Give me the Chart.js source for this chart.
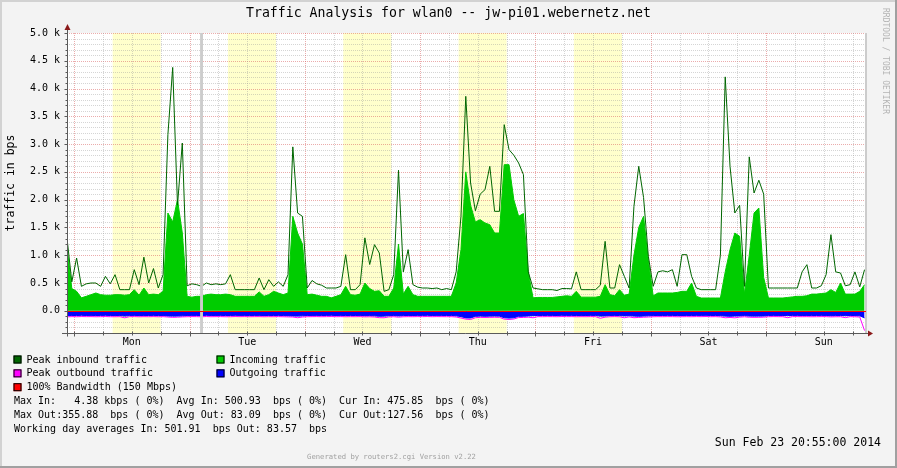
<!DOCTYPE html>
<html>
<head>
<meta charset="utf-8">
<title>Traffic Analysis for wlan0</title>
<script src="https://cdn.jsdelivr.net/npm/chart.js@4/dist/chart.umd.min.js"></script>
<style>
  html, body { margin: 0; padding: 0; background: #f3f3f3; }
  #graph { display: block; }
</style>
</head>
<body>
<canvas id="graph" width="897" height="468"></canvas>
<script>
// hours counted from Monday 00:00, one sample per hour
const startHour = -1.5;
const stepHours = 1;
const endHour = 164.8;
const dayLabels = ['Mon', 'Tue', 'Wed', 'Thu', 'Fri', 'Sat', 'Sun'];
const yTickValues = [0, 500, 1000, 1500, 2000, 2500, 3000, 3500, 4000, 4500, 5000];
const workDays = [0, 1, 2, 3, 4];
const workHours = [8, 18];
const unknownHours = [[26.2, 26.8]];

const incoming = [
  1150, 400, 350, 233, 260, 290, 320, 290, 280, 280,
  290, 290, 280, 290, 380, 280, 410, 290, 300, 290,
  350, 1760, 1600, 2000, 1400, 260, 245, 260, 260, 290,
  300, 290, 290, 300, 290, 260, 260, 260, 260, 260,
  340, 260, 290, 350, 320, 290, 320, 1700, 1400, 1200,
  290, 300, 280, 260, 260, 233, 260, 290, 440, 290,
  280, 300, 500, 400, 350, 360, 260, 260, 410, 1200,
  300, 440, 290, 260, 260, 260, 260, 260, 260, 260,
  260, 500, 1100, 2500, 1900, 1600, 1640, 1580, 1550, 1400,
  1400, 2630, 2630, 2000, 1700, 1750, 700, 233, 240, 240,
  240, 240, 250, 260, 270, 260, 350, 245, 245, 245,
  245, 260, 470, 290, 270, 380, 280, 300, 1000, 1500,
  1700, 900, 270, 320, 320, 320, 320, 330, 350, 350,
  500, 260, 230, 230, 230, 230, 230, 700, 1100, 1400,
  1340, 300, 1000, 1760, 1850, 600, 230, 230, 230, 230,
  240, 250, 260, 260, 270, 300, 300, 310, 320, 380,
  330, 500, 300, 300, 300, 350, 470
];

const peakIn = [
  1310, 520, 950, 440, 485, 500, 500, 440, 620, 485,
  650, 380, 380, 380, 740, 470, 965, 500, 760, 410,
  650, 3170, 4380, 1900, 3020, 450, 485, 470, 440, 500,
  470, 485, 470, 485, 650, 380, 380, 380, 380, 380,
  590, 380, 560, 440, 520, 440, 650, 2950, 1760, 1700,
  410, 545, 485, 460, 410, 410, 410, 440, 1010, 380,
  380, 470, 1313, 833, 1190, 1040, 350, 380, 650, 2530,
  700, 1100, 470, 425, 410, 410, 400, 410, 380, 400,
  380, 700, 1700, 3860, 2300, 1800, 2100, 2180, 2600, 1790,
  1790, 3350, 2900, 2800, 2660, 2450, 700, 410, 395, 380,
  380, 380, 365, 400, 400, 395, 700, 380, 380, 380,
  380, 460, 1250, 410, 410, 830, 620, 410, 1880, 2600,
  2040, 980, 440, 700, 720, 700, 740, 440, 1010, 1010,
  620, 410, 380, 380, 380, 380, 1000, 4210, 2600, 1760,
  1900, 440, 2770, 2120, 2350, 2100, 410, 410, 410, 410,
  410, 410, 410, 700, 830, 410, 410, 450, 650, 1370,
  700, 680, 450, 470, 700, 430, 740
];

const outgoing = [
  -88, -84, -86, -82, -85, -83, -86, -84, -82, -85,
  -86, -84, -95, -85, -83, -86, -84, -85, -83, -86,
  -84, -92, -96, -94, -90, -85, -83, -84, -86, -82,
  -85, -84, -83, -86, -85, -82, -84, -83, -85, -84,
  -83, -86, -84, -85, -83, -86, -88, -92, -96, -90,
  -85, -84, -83, -85, -84, -82, -85, -83, -86, -84,
  -85, -83, -88, -86, -90, -98, -96, -88, -85, -92,
  -86, -84, -85, -83, -84, -82, -85, -83, -84, -85,
  -84, -90, -105, -128, -130, -100, -95, -98, -96, -94,
  -96, -125, -132, -126, -100, -98, -92, -88, -84, -85,
  -83, -84, -85, -82, -84, -83, -86, -84, -85, -83,
  -84, -96, -92, -85, -83, -86, -92, -88, -95, -98,
  -94, -90, -86, -84, -85, -83, -84, -86, -85, -84,
  -85, -83, -84, -82, -85, -84, -88, -96, -98, -95,
  -92, -86, -94, -96, -95, -93, -85, -83, -84, -85,
  -86, -84, -83, -85, -84, -86, -85, -83, -84, -88,
  -86, -85, -88, -84, -86, -90, -128
];

const peakOut = [
  -110, -105, -108, -104, -106, -105, -108, -106, -104, -107,
  -108, -106, -127, -106, -105, -108, -106, -107, -105, -108,
  -106, -112, -118, -115, -110, -107, -105, -106, -108, -104,
  -107, -106, -105, -108, -107, -104, -106, -105, -107, -106,
  -105, -108, -106, -107, -105, -108, -110, -112, -125, -112,
  -107, -106, -105, -107, -106, -104, -107, -105, -108, -106,
  -107, -105, -110, -108, -112, -124, -126, -110, -107, -115,
  -108, -106, -107, -105, -106, -104, -107, -105, -106, -107,
  -106, -112, -130, -150, -157, -125, -118, -120, -118, -116,
  -118, -150, -157, -148, -122, -120, -115, -126, -106, -107,
  -105, -106, -107, -104, -106, -105, -108, -106, -107, -105,
  -106, -135, -115, -107, -105, -108, -126, -110, -125, -120,
  -116, -112, -108, -106, -107, -105, -106, -108, -107, -106,
  -107, -105, -106, -104, -107, -106, -110, -126, -120, -127,
  -114, -108, -116, -118, -117, -115, -107, -105, -106, -107,
  -124, -106, -105, -107, -106, -108, -107, -105, -106, -110,
  -108, -107, -124, -106, -108, -112, -356
];

const titleText = 'Traffic Analysis for wlan0 -- jw-pi01.webernetz.net';
const statLines = [
  'Max In:   4.38 kbps ( 0%)  Avg In: 500.93  bps ( 0%)  Cur In: 475.85  bps ( 0%)',
  'Max Out:355.88  bps ( 0%)  Avg Out: 83.09  bps ( 0%)  Cur Out:127.56  bps ( 0%)',
  'Working day averages In: 501.91  bps Out: 83.57  bps'
];
const stampText = 'Sun Feb 23 20:55:00 2014';
const generatedText = 'Generated by routers2.cgi Version v2.22';
const watermarkText = 'RRDTOOL / TOBI OETIKER';

const MONO = '"DejaVu Sans Mono", "Liberation Mono", monospace';

function toPoints(values) {
  return values.map((v, i) => ({ x: startHour + i * stepHours, y: v }));
}

// rrdtool-like backdrop, grid, axes and legend
const rrdLook = {
  id: 'rrdLook',
  beforeDraw(chart) {
    const ctx = chart.ctx;
    const w = chart.width, h = chart.height;
    ctx.save();
    ctx.fillStyle = '#f3f3f3';
    ctx.fillRect(0, 0, w, h);
    ctx.fillStyle = '#d2d2d2';
    ctx.fillRect(0, 0, w, 2);
    ctx.fillRect(0, 0, 2, h);
    ctx.fillStyle = '#a0a0a0';
    ctx.fillRect(0, h - 2, w, 2);
    ctx.fillRect(w - 2, 0, 2, h);

    ctx.fillStyle = '#000000';
    ctx.font = '13.2px ' + MONO;
    ctx.textAlign = 'center';
    ctx.textBaseline = 'middle';
    ctx.fillText(titleText, w / 2, 13.5);
    ctx.restore();
  },
  beforeDatasetsDraw(chart) {
    const ctx = chart.ctx;
    const xs = chart.scales.x, ys = chart.scales.y;
    const { left, right, top, bottom } = chart.chartArea;
    ctx.save();
    ctx.fillStyle = '#ffffff';
    ctx.fillRect(left, top, right - left, bottom - top);

    // working hours
    ctx.fillStyle = '#ffffcc';
    workDays.forEach(d => {
      const x0 = xs.getPixelForValue(d * 24 + workHours[0]);
      const x1 = xs.getPixelForValue(d * 24 + workHours[1]);
      ctx.fillRect(x0, top, x1 - x0, bottom - top);
    });

    ctx.lineWidth = 1;
    ctx.setLineDash([1, 1]);
    // horizontal grid
    for (let v = ys.min; v <= ys.max; v += 100) {
      const py = Math.round(ys.getPixelForValue(v)) + 0.5;
      ctx.strokeStyle = v % 500 === 0 ? 'rgba(215, 90, 90, 0.5)' : 'rgba(150, 150, 150, 0.4)';
      ctx.beginPath();
      ctx.moveTo(left, py);
      ctx.lineTo(right, py);
      ctx.stroke();
    }
    // vertical grid
    for (let hr = Math.ceil(xs.min / 6) * 6; hr <= xs.max; hr += 6) {
      const px = Math.round(xs.getPixelForValue(hr)) + 0.5;
      ctx.strokeStyle = hr % 24 === 0 ? 'rgba(215, 90, 90, 0.5)' : 'rgba(150, 150, 150, 0.4)';
      ctx.beginPath();
      ctx.moveTo(px, top);
      ctx.lineTo(px, bottom);
      ctx.stroke();
    }
    ctx.restore();
  },
  afterDatasetsDraw(chart) {
    const ctx = chart.ctx;
    const xs = chart.scales.x, ys = chart.scales.y;
    const { left, right, top, bottom } = chart.chartArea;
    ctx.save();

    // unknown data
    ctx.fillStyle = '#cccccc';
    unknownHours.forEach(([a, b]) => {
      const x0 = xs.getPixelForValue(a), x1 = xs.getPixelForValue(b);
      ctx.fillRect(x0, top, x1 - x0, bottom - top);
    });
    ctx.fillRect(right - 1, top, 2, bottom - top);

    // zero line
    const zy = Math.round(ys.getPixelForValue(0)) + 0.5;
    ctx.strokeStyle = '#ff0000';
    ctx.lineWidth = 1;
    ctx.beginPath();
    ctx.moveTo(left, zy);
    ctx.lineTo(right, zy);
    ctx.stroke();

    // axes
    const ax = Math.round(left) + 0.5, ay = Math.round(bottom) + 0.5;
    ctx.strokeStyle = '#5a5a5a';
    ctx.beginPath();
    ctx.moveTo(ax, ay + 3);
    ctx.lineTo(ax, top - 6);
    ctx.moveTo(left - 5, ay);
    ctx.lineTo(right + 3, ay);
    ctx.stroke();
    // ticks
    ctx.beginPath();
    for (let v = ys.min; v <= ys.max; v += 100) {
      const py = Math.round(ys.getPixelForValue(v)) + 0.5;
      ctx.moveTo(ax - (v % 500 === 0 ? 3 : 2), py);
      ctx.lineTo(ax, py);
    }
    for (let hr = Math.ceil(xs.min / 6) * 6; hr <= xs.max; hr += 6) {
      const px = Math.round(xs.getPixelForValue(hr)) + 0.5;
      ctx.moveTo(px, ay - 2);
      ctx.lineTo(px, ay + (hr % 24 === 0 ? 3 : 2));
    }
    ctx.stroke();
    // arrows
    ctx.fillStyle = '#8b1a1a';
    ctx.beginPath();
    ctx.moveTo(ax, top - 9);
    ctx.lineTo(ax - 3, top - 3);
    ctx.lineTo(ax + 3, top - 3);
    ctx.closePath();
    ctx.fill();
    ctx.beginPath();
    ctx.moveTo(right + 7, ay);
    ctx.lineTo(right + 2, ay - 3);
    ctx.lineTo(right + 2, ay + 3);
    ctx.closePath();
    ctx.fill();
    ctx.restore();
  },
  afterDraw(chart) {
    const ctx = chart.ctx;
    const ds = chart.data.datasets;
    const byLabel = name => ds.find(d => d.label === name);
    const legendRows = [
      [byLabel('Peak inbound traffic'), byLabel('Incoming traffic')],
      [byLabel('Peak outbound traffic'), byLabel('Outgoing traffic')],
      [{ label: '100% Bandwidth (150 Mbps)', legendColor: '#ff0000' }]
    ];
    const colX = [13.5, 216.5];
    ctx.save();
    ctx.font = '10px ' + MONO;
    ctx.textBaseline = 'middle';
    ctx.textAlign = 'left';
    legendRows.forEach((row, r) => {
      const cy = 359.5 + r * 13.85;
      row.forEach((item, c) => {
        const sx = colX[c];
        ctx.fillStyle = item.legendColor;
        ctx.fillRect(sx, cy - 4, 8, 8);
        ctx.strokeStyle = '#000000';
        ctx.lineWidth = 1;
        ctx.strokeRect(sx + 0.5, cy - 3.5, 7, 7);
        ctx.fillStyle = '#000000';
        ctx.fillText(item.label, sx + 13, cy + 0.5);
      });
    });
    statLines.forEach((line, k) => {
      ctx.fillText(line, 14, 401.5 + k * 13.9);
    });

    ctx.font = '11.5px ' + MONO;
    ctx.textAlign = 'right';
    ctx.fillText(stampText, 881, 443.5);

    ctx.font = '7.2px ' + MONO;
    ctx.textAlign = 'center';
    ctx.fillStyle = '#a0a0a0';
    ctx.fillText(generatedText, 391.5, 457);

    ctx.translate(885, 8);
    ctx.rotate(Math.PI / 2);
    ctx.font = '8px ' + MONO;
    ctx.textAlign = 'left';
    ctx.fillStyle = '#b4b4b4';
    ctx.fillText(watermarkText, 0, 0);
    ctx.restore();
  }
};

new Chart(document.getElementById('graph'), {
  type: 'line',
  data: {
    datasets: [
      {
        label: 'Peak inbound traffic',
        data: toPoints(peakIn),
        borderColor: '#006600',
        legendColor: '#006600',
        borderWidth: 1,
        fill: false,
        pointRadius: 0,
        tension: 0,
        order: 1
      },
      {
        label: 'Incoming traffic',
        data: toPoints(incoming),
        borderColor: '#00cc00',
        backgroundColor: '#00cc00',
        legendColor: '#00cc00',
        borderWidth: 1,
        fill: 'origin',
        pointRadius: 0,
        tension: 0,
        order: 2
      },
      {
        label: 'Outgoing traffic',
        data: toPoints(outgoing),
        borderColor: '#0000ff',
        backgroundColor: '#0000ff',
        legendColor: '#0000ff',
        borderWidth: 1,
        fill: 'origin',
        pointRadius: 0,
        tension: 0,
        order: 3
      },
      {
        label: 'Peak outbound traffic',
        data: toPoints(peakOut),
        borderColor: '#ff00ff',
        legendColor: '#ff00ff',
        borderWidth: 1,
        fill: false,
        pointRadius: 0,
        tension: 0,
        order: 4
      }
    ]
  },
  options: {
    responsive: false,
    animation: false,
    devicePixelRatio: 1,
    layout: { padding: { top: 33, right: 31, bottom: 115, left: 0 } },
    plugins: {
      legend: { display: false },
      tooltip: { enabled: false },
      title: { display: false }
    },
    scales: {
      x: {
        type: 'linear',
        min: startHour,
        max: endHour,
        grid: { display: false, drawTicks: false },
        border: { display: false },
        afterBuildTicks: scale => {
          scale.ticks = dayLabels.map((d, k) => ({ value: 12 + 24 * k }));
        },
        afterFit: scale => { scale.height = 20; },
        ticks: {
          autoSkip: false,
          maxRotation: 0,
          padding: 3,
          color: '#000000',
          font: { family: MONO, size: 10 },
          callback: value => dayLabels[Math.round((value - 12) / 24)]
        }
      },
      y: {
        min: -400,
        max: 5000,
        grid: { display: false, drawTicks: false },
        border: { display: false },
        afterBuildTicks: scale => {
          scale.ticks = yTickValues.map(v => ({ value: v }));
        },
        afterFit: scale => { scale.width = 67; },
        title: {
          display: true,
          text: 'traffic in bps',
          color: '#000000',
          font: { family: MONO, size: 11.5 },
          padding: { top: 4, bottom: 0 }
        },
        ticks: {
          padding: 7,
          color: '#000000',
          font: { family: MONO, size: 10 },
          callback: v => v === 0 ? '0.0' : (v / 1000).toFixed(1) + ' k'
        }
      }
    }
  },
  plugins: [rrdLook]
});
</script>
</body>
</html>
